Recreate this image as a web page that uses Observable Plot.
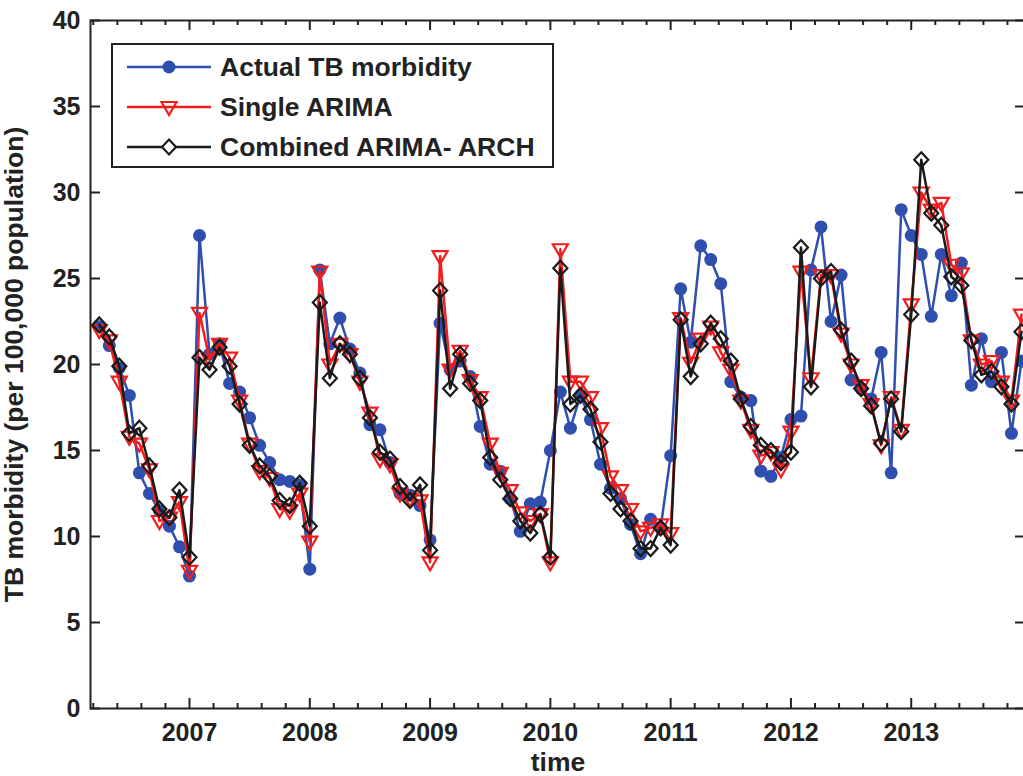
<!DOCTYPE html>
<html>
<head>
<meta charset="utf-8">
<script src="https://cdn.jsdelivr.net/npm/d3@7"></script>
<script src="https://cdn.jsdelivr.net/npm/@observablehq/plot@0.6"></script>
<style>
  html, body { margin: 0; padding: 0; background: #fff; }
  #wrap { position: relative; width: 1023px; height: 776px; overflow: hidden; }
  #legend {
    position: absolute; left: 111px; top: 43px; width: 439px; height: 121px;
    border: 2px solid #222; background: #fff;
    font-family: 'Liberation Sans', Arial, sans-serif; font-weight: bold; font-size: 25px; color: #222;
  }
  .row { position: absolute; left: 0; height: 40px; width: 100%; }
  .row svg { position: absolute; left: 14px; top: 0; }
  .row span { position: absolute; left: 107px; top: 50%; transform: translateY(-50%) scaleX(1.06); transform-origin: left center; white-space: nowrap; }
</style>
</head>
<body>
<div id="wrap"></div>
<script>
// ---- data (monthly, first point = April 2006) ----
const startYear = 2006.25;
const actual = [22.2,21.1,19.8,18.2,13.7,12.5,11.5,10.6,9.4,7.7,
  27.5,20.6,21.2,18.9,18.4,16.9,15.3,14.3,13.3,13.2,13.0,8.1,
  25.5,21.2,22.7,20.9,19.5,16.5,16.2,14.3,12.5,12.4,11.8,9.8,
  22.4,19.7,20.2,19.3,16.4,14.2,13.8,12.2,10.3,11.9,12.0,15.0,
  18.4,16.3,18.2,16.8,14.2,12.8,12.2,10.7,9.0,11.0,10.5,14.7,
  24.4,21.3,26.9,26.1,24.7,19.0,18.1,17.9,13.8,13.5,14.6,16.8,
  17.0,25.5,28.0,22.5,25.2,19.1,18.6,18.0,20.7,13.7,29.0,27.5,
  26.4,22.8,26.4,24.0,25.9,18.8,21.5,19.0,20.7,16.0,20.2];
const singleArima = [22.0,21.4,19.0,15.8,15.4,13.9,10.9,11.1,12.0,8.0,
  23.0,20.3,21.2,20.4,17.9,15.4,13.8,13.4,11.6,11.5,12.5,9.7,
  25.4,20.0,21.2,20.6,19.0,17.2,14.5,14.2,12.5,12.2,12.1,8.5,
  26.3,19.7,20.8,19.1,18.1,15.4,13.7,12.7,11.4,10.9,11.3,8.5,
  26.7,19.0,19.0,18.1,16.3,13.5,12.7,11.6,10.3,10.5,10.7,10.2,
  22.7,20.1,21.5,22.2,20.7,19.7,17.9,16.2,14.7,14.9,13.9,16.1,
  25.4,19.2,25.2,25.2,21.8,20.0,18.8,17.7,15.3,18.1,16.2,23.5,
  30.0,29.0,29.4,25.8,25.3,21.4,20.0,20.2,19.0,17.9,22.9];
const combined = [22.3,21.6,19.9,16.0,16.3,14.1,11.6,11.1,12.7,8.8,
  20.4,19.7,21.0,19.9,17.7,15.3,14.1,13.5,12.1,11.8,13.1,10.6,
  23.6,19.2,21.2,20.6,19.2,16.9,14.9,14.5,12.9,12.1,13.0,9.2,
  24.3,18.6,20.6,18.9,17.9,14.6,13.3,12.2,10.9,10.2,11.3,8.8,
  25.6,17.7,18.2,17.4,15.5,12.5,11.6,10.9,9.3,9.3,10.5,9.5,
  22.6,19.3,21.2,22.4,21.5,20.2,18.0,16.4,15.3,15.0,14.3,14.9,
  26.8,18.7,25.0,25.4,22.0,20.2,18.6,17.6,15.4,18.0,16.1,22.9,
  31.9,28.8,28.1,25.1,24.6,21.4,19.4,19.6,18.7,17.7,21.9];
const seriesNames = ["Actual TB morbidity", "Single ARIMA", "Combined ARIMA- ARCH"];
const seriesColors = ["#2f4fae", "#f21d1d", "#1a1a1a"];
const xMajorTicks = [2007, 2008, 2009, 2010, 2011, 2012, 2013];
const xMinorTicks = d3.range(0, 39).map(k => +(2006.2 + k * 0.2).toFixed(1)).filter(v => !xMajorTicks.includes(v));
const yTicks = [0, 5, 10, 15, 20, 25, 30, 35, 40];

const rows = actual.map((v, i) => ({t: startYear + i / 12, actual: v, single: singleArima[i], combined: combined[i]}));

const W = 1023, H = 776, mT = 20, mB = 68, mL = 90, mR = -2;
const plotH = H - mT - mB, plotW = W - mL - mR;
const axisColor = "#222";

const triDown = {draw(ctx) { ctx.moveTo(-7.5, -5); ctx.lineTo(7.5, -5); ctx.lineTo(0, 8); ctx.closePath(); }};
const diamond = {draw(ctx) { ctx.moveTo(0, -7.5); ctx.lineTo(7, 0); ctx.lineTo(0, 7.5); ctx.lineTo(-7, 0); ctx.closePath(); }};

const chart = Plot.plot({
  width: W, height: H,
  marginTop: mT, marginBottom: mB, marginLeft: mL, marginRight: mR,
  style: {fontFamily: "'Liberation Sans', Arial, sans-serif", fontSize: "25px", fontWeight: "bold", color: axisColor, background: "#fff"},
  x: {domain: [2006.177, 2013.950]},
  y: {domain: [0, 40]},
  marks: [
    // inward ticks on all four sides
    Plot.tickX(xMinorTicks, {x: d => d, insetTop: plotH - 5, stroke: axisColor, strokeWidth: 2}),
    Plot.tickX(xMinorTicks, {x: d => d, insetBottom: plotH - 5, stroke: axisColor, strokeWidth: 2}),
    Plot.tickX(xMajorTicks, {x: d => d, insetTop: plotH - 10, stroke: axisColor, strokeWidth: 2}),
    Plot.tickX(xMajorTicks, {x: d => d, insetBottom: plotH - 10, stroke: axisColor, strokeWidth: 2}),
    Plot.tickY(yTicks, {y: d => d, insetRight: plotW - 10, stroke: axisColor, strokeWidth: 2}),
    Plot.tickY(yTicks, {y: d => d, insetLeft: plotW - 10, stroke: axisColor, strokeWidth: 2}),
    Plot.axisX(xMajorTicks, {tickSize: 0, tickPadding: 15, tickFormat: d => String(d), label: "time", labelAnchor: "center", labelOffset: 62, labelArrow: "none"}),
    Plot.axisY(yTicks, {tickSize: 0, tickPadding: 10, tickFormat: d => String(d), label: "TB morbidity (per 100,000 population)", labelAnchor: "center", labelOffset: 86, labelArrow: "none"}),
    // series
    Plot.line(rows, {x: "t", y: "actual", stroke: seriesColors[0], strokeWidth: 2.5}),
    Plot.dot(rows, {x: "t", y: "actual", r: 6.5, fill: seriesColors[0], stroke: "none"}),
    Plot.line(rows, {x: "t", y: "single", stroke: seriesColors[1], strokeWidth: 2.5}),
    Plot.dot(rows, {x: "t", y: "single", symbol: triDown, r: 5, fill: "none", stroke: seriesColors[1], strokeWidth: 2.2}),
    Plot.line(rows, {x: "t", y: "combined", stroke: seriesColors[2], strokeWidth: 2.5}),
    Plot.dot(rows, {x: "t", y: "combined", symbol: diamond, r: 5, fill: "none", stroke: seriesColors[2], strokeWidth: 2.2}),
    Plot.frame({stroke: axisColor, strokeWidth: 2})
  ]
});

const wrap = document.getElementById("wrap");
wrap.appendChild(chart);
// slightly larger axis titles, as in the reference
chart.querySelectorAll('[aria-label="y-axis label"] text, [aria-label="x-axis label"] text').forEach(t => t.style.fontSize = "26.5px");

// legend overlay
const legend = document.createElement("div");
legend.id = "legend";
const markerSvg = [
  `<circle cx="42" cy="20" r="6.5" fill="${seriesColors[0]}"/>`,
  `<path d="M34.5,15L49.5,15L42,28Z" fill="none" stroke="${seriesColors[1]}" stroke-width="2.2"/>`,
  `<path d="M42,12.5L49,20L42,27.5L35,20Z" fill="white" stroke="${seriesColors[2]}" stroke-width="2.2"/>`
];
const rowTops = [2, 42, 82];
seriesNames.forEach((name, i) => {
  const r = document.createElement("div");
  r.className = "row";
  r.style.top = rowTops[i] + "px";
  r.innerHTML = `<svg width="86" height="40"><line x1="0" y1="20" x2="84" y2="20" stroke="${seriesColors[i]}" stroke-width="2.5"/>${markerSvg[i]}</svg><span>${name}</span>`;
  legend.appendChild(r);
});
wrap.appendChild(legend);
</script>
</body>
</html>
